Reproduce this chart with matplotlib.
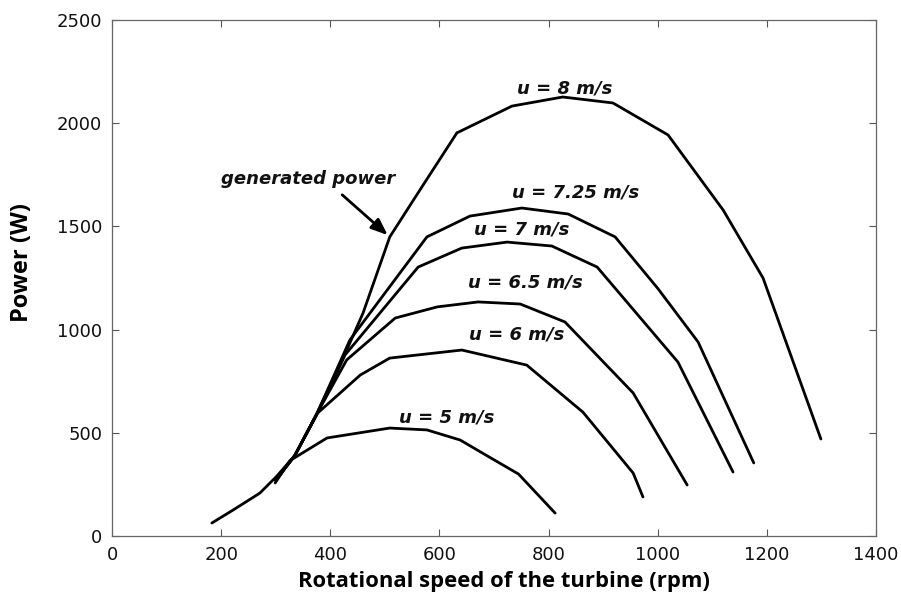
import numpy as np
import matplotlib
matplotlib.use('Agg')
import matplotlib.pyplot as plt

# rotational speed (rpm) / power (W)
gen_rpm = [183, 222, 271, 302, 335, 375, 414, 460, 509, 570, 632]
gen_w = [63, 126, 208, 290, 390, 590, 804, 1080, 1449, 1700, 1953]

u8_rpm = [632, 733, 826, 918, 1019, 1120, 1193, 1299]
u8_w = [1953, 2083, 2127, 2098, 1943, 1579, 1250, 470]

u725_rpm = [300, 335, 375, 436, 577, 656, 751, 836, 922, 1000, 1074, 1176]
u725_w = [270, 390, 590, 950, 1449, 1550, 1589, 1560, 1449, 1200, 940, 354]

u7_rpm = [300, 335, 375, 427, 561, 641, 724, 806, 889, 1037, 1138]
u7_w = [270, 390, 590, 877, 1303, 1395, 1424, 1405, 1303, 843, 310]

u65_rpm = [300, 335, 375, 430, 519, 596, 671, 748, 830, 955, 1054]
u65_w = [270, 390, 590, 853, 1056, 1110, 1134, 1124, 1037, 693, 247]

u6_rpm = [300, 335, 377, 455, 509, 641, 760, 863, 955, 973]
u6_w = [270, 390, 596, 780, 862, 901, 828, 600, 305, 189]

u5_rpm = [299, 326, 394, 509, 577, 638, 680, 745, 812]
u5_w = [257, 365, 475, 523, 514, 465, 400, 300, 111]

curves = [(gen_rpm, gen_w), (u8_rpm, u8_w), (u725_rpm, u725_w), (u7_rpm, u7_w),
          (u65_rpm, u65_w), (u6_rpm, u6_w), (u5_rpm, u5_w)]

labels = ['u = 8 m/s', 'u = 7.25 m/s', 'u = 7 m/s', 'u = 6.5 m/s', 'u = 6 m/s', 'u = 5 m/s']
label_x = [830, 850, 751, 757, 742, 614]
label_y = [2170, 1662, 1483, 1226, 974, 572]

fig = plt.figure(figsize=(9.01, 6.03), dpi=100)
ax = fig.add_axes([112/901, 1-536/603, (876-112)/901, (536-20)/603])

for xs, ys in curves:
    ax.plot(xs, ys, color='black', lw=2.0, solid_joinstyle='round', solid_capstyle='round')

LBL = dict(family='DejaVu Sans', fontsize=13, fontweight='bold', fontstyle='italic',
           ha='center', va='center', color='#111111')
for t, lx, ly in zip(labels, label_x, label_y):
    ax.text(lx, ly, t, **LBL)

ax.text(359, 1730, 'generated power', **LBL)
ax.annotate('', xy=(509, 1449), xytext=(418, 1662),
            arrowprops=dict(arrowstyle='-|>,head_length=1.0,head_width=0.4', color='black', lw=2.0))

ax.set_xlim(0, 1400)
ax.set_ylim(0, 2500)
ax.set_xticks(range(0, 1401, 200))
ax.set_yticks(range(0, 2501, 500))
ax.tick_params(direction='in', top=True, right=True, length=5, width=0.8, color='#555555',
               labelsize=13, pad=7)
for lab in ax.get_xticklabels() + ax.get_yticklabels():
    lab.set_family('DejaVu Sans')
    lab.set_color('#111111')
for s in ax.spines.values():
    s.set_color('#666666')
    s.set_linewidth(0.9)

fig.text(504/901, 1-582/603, 'Rotational speed of the turbine (rpm)', family='Open Sans',
         fontweight='bold', fontsize=15.8, ha='center', va='center')
fig.text(22/901, 1-262/603, 'Power (W)', family='Open Sans', fontweight='bold', fontsize=17,
         rotation=90, ha='center', va='center')

fig.savefig('out.png', dpi=100)
